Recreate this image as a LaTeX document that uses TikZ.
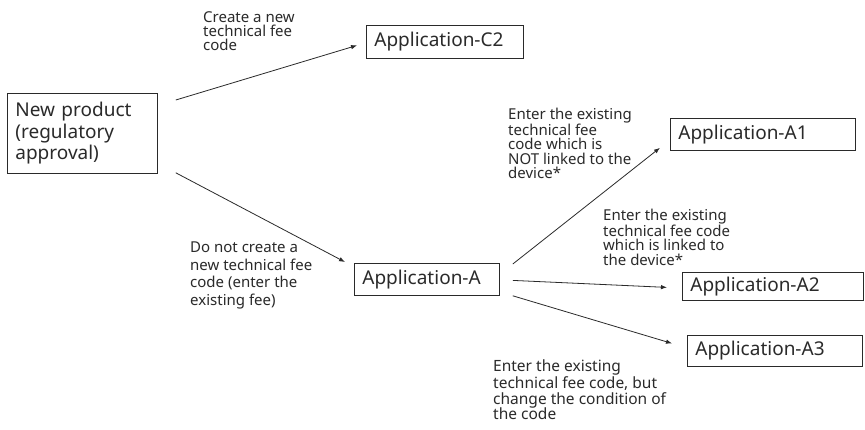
\documentclass[tikz,border=0pt]{standalone}
\usepackage{fontspec}
\setmainfont{Noto Sans}
\usetikzlibrary{calc,arrows.meta}
\definecolor{ink}{HTML}{2A2A2A}
\begin{document}
\begin{tikzpicture}[x=1pt,y=-1pt,
  box/.style={draw=ink, line width=0.8pt, inner xsep=8pt, inner ysep=0pt, align=left,
    font=\fontsize{19}{21.5}\selectfont, text=ink, anchor=north west},
  lbl/.style={inner sep=0pt, align=left, anchor=north west, text=ink,
    font=\fontsize{15}{14.2}\selectfont},
  arr/.style={draw=ink, line width=0.8pt, -{Latex[length=6pt,width=4.5pt]}}]
\fill[white] (0,0) rectangle (865,429);
\useasboundingbox (0,0) rectangle (865,429);

\node[box, text width=134pt, minimum height=80pt] (np) at (7,93) {New product\\(regulatory\\approval)};
\node[box, text width=141pt, minimum height=33pt] (c2) at (366,25) {Application-C2};
\node[box, text width=129pt, minimum height=32pt] (a) at (354,263) {Application-A};
\node[box, text width=169pt, minimum height=32pt] (a1) at (670,118) {Application-A1};
\node[box, text width=165pt, minimum height=28pt] (a2) at (682,272) {Application-A2};
\node[box, text width=159pt, minimum height=31pt] (a3) at (687,335) {Application-A3};

\draw[arr] ($(np.north east)+(18,7)$) -- ($(c2.west)+(-9,3.5)$);
\draw[arr] ($(np.south east)+(18,-1)$) -- ($(a.north west)+(-9,-1)$);
\draw[arr] ($(a.north east)+(13,1)$) -- ($(a1.south west)+(-10,-3)$);
\draw[arr] ($(a.east)+(13,1)$) -- ($(a2.west)+(-15,1)$);
\draw[arr] ($(a.south east)+(13,0)$) -- ($(a3.west)+(-15,-7.5)$);

\node[lbl] (l1) at (203,11) {Create a new\\technical fee\\code};
\node[lbl] (l2) at (508,108) {Enter the existing\\technical fee\\code which is\\NOT linked to the\\device*};
\node[lbl] (l3) at (603,209) {Enter the existing\\technical fee code\\which is linked to\\the device*};
\node[lbl, font=\fontsize{15}{17.5}\selectfont] (l4) at (190,242) {Do not create a\\new technical fee\\code (enter the\\existing fee)};
\node[lbl, font=\fontsize{15.5}{15.5}\selectfont] (l5) at (493,360) {Enter the existing\\technical fee code, but\\change the condition of\\the code};
\end{tikzpicture}
\end{document}
